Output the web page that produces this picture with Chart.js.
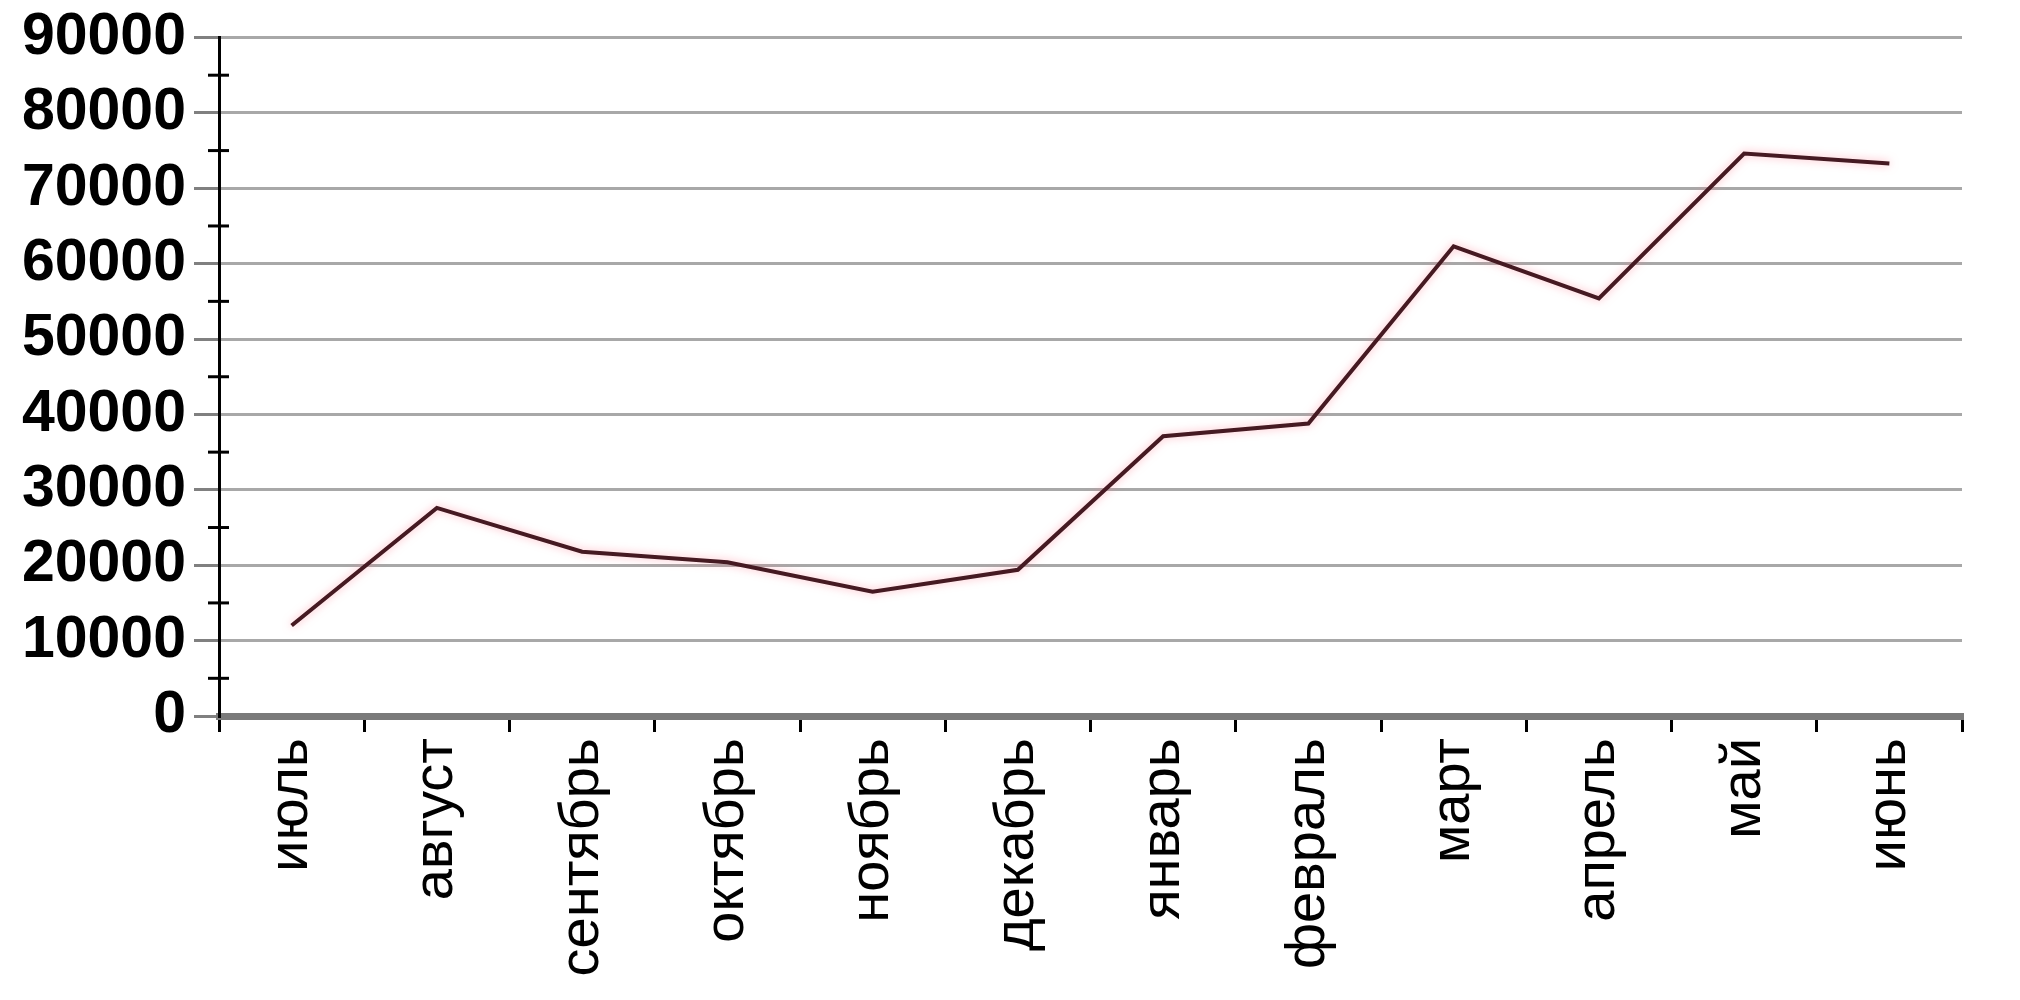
<!DOCTYPE html>
<html>
<head>
<meta charset="utf-8">
<script src="https://cdn.jsdelivr.net/npm/chart.js@4"></script>
<style>
html,body{margin:0;padding:0;background:#fff;}
#wrap{width:2020px;height:1000px;}
</style>
</head>
<body>
<div id="wrap"><canvas id="c" width="2020" height="1000"></canvas></div>
<script>
const categories = ['июль','август','сентябрь','октябрь','ноябрь','декабрь','январь','февраль','март','апрель','май','июнь'];
const values = [12000, 27600, 21800, 20400, 16500, 19400, 37100, 38800, 62300, 55400, 74600, 73300];
const yMin = 0, yMax = 90000, yStep = 10000, yMinorStep = 5000;

const minorTicks = {
  id: 'minorTicks',
  afterDraw(chart) {
    const y = chart.scales.y;
    const ctx = chart.ctx;
    ctx.save();
    ctx.strokeStyle = '#000';
    ctx.lineWidth = 3;
    for (let v = yMin + yMinorStep; v < yMax; v += yStep) {
      const py = y.getPixelForValue(v);
      ctx.beginPath();
      ctx.moveTo(chart.chartArea.left - 11, py);
      ctx.lineTo(chart.chartArea.left + 10, py);
      ctx.stroke();
    }
    ctx.restore();
  }
};
const glow = {
  id: 'glow',
  beforeDatasetDraw(chart) {
    const ctx = chart.ctx;
    ctx.save();
    ctx.shadowColor = 'rgba(255,120,140,0.55)';
    ctx.shadowBlur = 8;
  },
  afterDatasetDraw(chart) { chart.ctx.restore(); }
};

new Chart(document.getElementById('c'), {
  type: 'line',
  data: {
    labels: categories,
    datasets: [{
      data: values,
      borderColor: '#451a22',
      borderWidth: 4,
      pointRadius: 0,
      tension: 0,
      fill: false
    }]
  },
  options: {
    responsive: false,
    animation: false,
    plugins: { legend: { display: false }, tooltip: { enabled: false } },
    layout: { padding: { top: 34, right: 58, left: 0, bottom: 0 } },
    scales: {
      x: {
        offset: true,
        grid: { display: true, drawOnChartArea: false, drawTicks: true, tickLength: 16, tickColor: '#000', lineWidth: 3, offset: true },
        border: { display: true, color: '#7a7a7a', width: 7 },
        ticks: {
          minRotation: 90, maxRotation: 90, autoSkip: false, padding: 6,
          color: '#000',
          font: { family: 'Liberation Sans, Arial, sans-serif', size: 56, weight: 'normal' }
        },
        afterFit(scale) { scale.height = 284; }
      },
      y: {
        min: yMin, max: yMax,
        grid: { color: '#a8a8a8', lineWidth: 3, tickLength: 25, tickColor: '#808080', drawTicks: true },
        border: { display: true, color: '#000', width: 3 },
        ticks: {
          stepSize: yStep, padding: 8, color: '#000', autoSkip: false,
          font: { family: 'Liberation Sans, Arial, sans-serif', size: 59, weight: 'bold', lineHeight: 1.0 },
          callback: v => String(v)
        },
        afterFit(scale) { scale.width = 219; }
      }
    }
  },
  plugins: [minorTicks, glow]
});
</script>
</body>
</html>
